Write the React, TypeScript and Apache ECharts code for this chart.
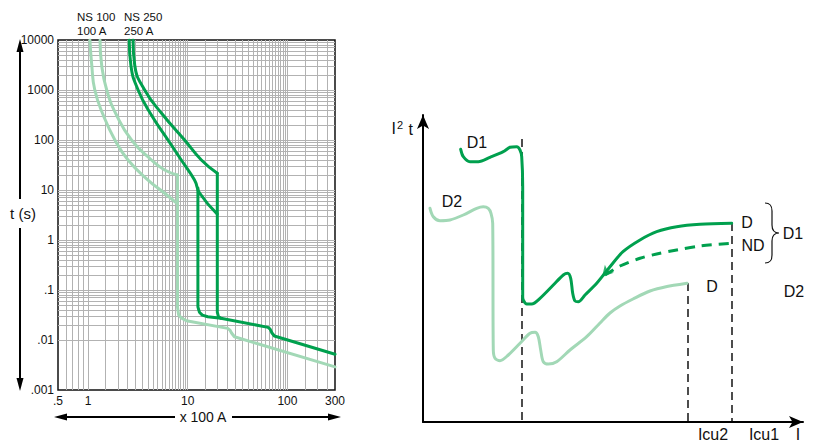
import React, { useEffect, useRef } from 'react';
import * as echarts from 'echarts';

const FONT = '"Liberation Sans", Arial, Helvetica, sans-serif';
const DARK = '#00a04e';
const LIGHT = '#a2d8b6';
const GRID_GRAY = '#b2b2b2';

// ---------- Left chart: tripping curves (x: multiples of 100 A, y: seconds) ----------
const xFineDecades = [0.1];
const xFineSteps = [1, 2, 3, 4, 5, 6, 7, 8, 9];
const xDecades = [1, 10, 100];
const xGridSteps = [1, 1.5, 2, 2.5, 3, 3.5, 4, 4.5, 5, 5.5, 6, 6.5, 7, 7.5, 8, 8.5, 9, 9.5];
const yDecades = [0.001, 0.01, 0.1, 1, 10, 100, 1000];
const yGridSteps = [1, 2, 3, 4, 5, 6, 7, 8, 9];

const ns100MinCurve = [[1.045, 10000], [1.09, 3162], [1.17, 1000], [1.42, 316], [1.86, 100], [2.52, 39.8], [4.0, 15.8], [5.87, 8.6], [7.9, 5.3]];
const ns100MaxCurve = [[1.32, 10000], [1.37, 3162], [1.54, 1000], [1.93, 316], [2.73, 100], [4.33, 39.8], [5.87, 25.1], [7.9, 20]];
const ns100Trip = [[7.9, 20], [7.9, 0.045], [8.1, 0.032], [8.6, 0.0277], [9.7, 0.0243], [25.2, 0.0171], [26.5, 0.0158], [27.5, 0.0138], [29.4, 0.0116], [300, 0.0029]];
const ns250MinCurve = [[2.59, 10000], [2.69, 3162], [3.18, 1000], [4.32, 316], [6.34, 100], [8.62, 39.8], [11.7, 15.8], [13.2, 8.6], [19.8, 3.3]];
const ns250MaxCurve = [[2.83, 10000], [2.94, 3162], [3.7, 1000], [5.65, 316], [9.3, 100], [13.7, 39.8], [19.8, 21.6]];
const ns250Trip = [[19.8, 21.6], [19.8, 0.036], [20.3, 0.0295], [21.5, 0.0272], [64, 0.0179], [67, 0.0165], [70, 0.0138], [74, 0.012], [300, 0.0052]];
const ns250Mag = [[12.65, 11], [12.65, 0.046], [13.1, 0.036], [14, 0.0315], [15.9, 0.0292], [21.5, 0.0272]];

// ---------- Right chart: schematic I²t (arbitrary units) ----------
const d1Curve = [[37.7, 272.7], [40.3, 265.3], [47, 260.3], [55.3, 260.3], [67, 264.7], [80.3, 270.3], [87, 274.7], [93.7, 275.3], [97, 272], [98.7, 265.3], [99.7, 235], [99.7, 125], [100.3, 122], [103.7, 118], [108.7, 118], [117, 123.7], [130.3, 137], [140.3, 147], [144.7, 148.7], [147.7, 143.7], [149.7, 128.7], [152, 121], [155.3, 120.3], [162, 127], [173.7, 138.7], [187, 155.3], [200, 170.3], [217, 182], [233.7, 190.3], [253.7, 195.3], [277, 197.7], [308.7, 198.7]];
const d1NonDiscr = [[182, 147], [197, 156], [217, 163.7], [233.7, 168], [253.7, 172], [277, 176], [308.7, 178.7]];
const d1Arrow = [[179, 145]];
const d2Curve = [[7, 213.7], [10.3, 205.3], [17, 201.3], [27, 202], [40.3, 207], [53.7, 213.7], [60.3, 215.3], [65.3, 213.7], [68, 208.7], [69.7, 198.7], [70.3, 72], [72, 63.7], [77, 61.3], [85.3, 67], [97, 78.7], [107, 88.7], [112, 89.7], [115.3, 85.3], [117.7, 72], [120.3, 60.3], [125.3, 58], [133.7, 60.3], [147, 72], [163.7, 85.3], [177, 99], [187, 109], [197, 116], [210, 123], [227, 131], [244, 135.5], [264, 138.7]];
const selectivityLine = [[99, 283], [99, 0]];
const icu2Line = [[265, 139], [265, 0]];
const icu1Line = [[309, 199], [309, 0]];

function buildGrid(decades: number[], steps: number[], min: number, max: number) {
  const out: number[] = [];
  decades.forEach((d) => steps.forEach((s) => {
    const v = +(d * s).toPrecision(4);
    if (v > min && v < max) out.push(v);
  }));
  return out;
}

let braceRegistered = false;
function registerBrace() {
  if (braceRegistered) return;
  try {
    const Brace = (echarts as any).graphic.extendPath(
      'M0 0 C5 0 7 2 7 8 L7 22 C7 27 9 30 14 30 C9 30 7 33 7 38 L7 52 C7 58 5 60 0 60',
      {}
    );
    (echarts as any).graphic.registerShape('brace', Brace);
    braceRegistered = true;
  } catch (e) {
    braceRegistered = false;
  }
}

const fmtTick = (v: number) => {
  if (v >= 1) return String(Math.round(v));
  return String(+v.toPrecision(2)).replace(/^0\./, '.');
};

export default function App() {
  const ref = useRef<HTMLDivElement>(null);

  useEffect(() => {
    if (!ref.current) return;
    registerBrace();
    const chart = echarts.init(ref.current, undefined, { renderer: 'svg' });

    const xGrid = [
      ...buildGrid(xFineDecades, xFineSteps, 0.5, 300),
      ...buildGrid(xDecades, xGridSteps, 0.5, 300),
    ];
    const yGrid = buildGrid(yDecades, yGridSteps, 0.001, 10000);

    const curve = (data: number[][], color: string, smooth: number | boolean, idx = 0) => ({
      type: 'line',
      xAxisIndex: idx,
      yAxisIndex: idx,
      data,
      smooth,
      symbol: 'none',
      silent: true,
      z: 5,
      lineStyle: { color, width: 3, cap: 'round', join: 'round' },
    });

    const dashed = (data: number[][]) => ({
      type: 'line',
      xAxisIndex: 1,
      yAxisIndex: 1,
      data,
      symbol: 'none',
      silent: true,
      z: 3,
      lineStyle: { color: '#000', width: 1.4, type: [8, 5] },
    });

    const txt = (text: string, x: number, y: number, size = 16, align = 'center') => ({
      type: 'text',
      x,
      y,
      style: {
        text,
        fill: '#111',
        font: `${size}px ${FONT}`,
        textAlign: align,
        textVerticalAlign: 'middle',
      },
    });

    const option: any = {
      animation: false,
      backgroundColor: '#fff',
      textStyle: { fontFamily: FONT },
      grid: [
        { left: 58, top: 40, width: 277, height: 350, show: true, borderColor: '#111', borderWidth: 1.5, backgroundColor: 'transparent' },
        { left: 423, top: 115, width: 380, height: 307 },
      ],
      xAxis: [
        {
          type: 'log', logBase: 10, gridIndex: 0, min: 0.5, max: 300,
          axisLine: { show: false }, axisTick: { show: false }, splitLine: { show: false },
          axisLabel: { formatter: fmtTick, margin: 5, fontSize: 12, color: '#111', fontFamily: FONT },
        },
        {
          type: 'value', gridIndex: 1, min: 0, max: 380,
          axisLine: { show: true, lineStyle: { color: '#000', width: 2 }, symbol: ['none', 'arrow'], symbolSize: [9, 14] },
          axisTick: { show: false }, axisLabel: { show: false }, splitLine: { show: false },
        },
      ],
      yAxis: [
        {
          type: 'log', logBase: 10, gridIndex: 0, min: 0.001, max: 10000,
          axisLine: { show: false }, axisTick: { show: false }, splitLine: { show: false },
          axisLabel: { formatter: fmtTick, margin: 4, fontSize: 12, color: '#111', fontFamily: FONT },
        },
        {
          type: 'value', gridIndex: 1, min: 0, max: 307,
          axisLine: { show: true, lineStyle: { color: '#000', width: 2 }, symbol: ['none', 'arrow'], symbolSize: [9, 14] },
          axisTick: { show: false }, axisLabel: { show: false }, splitLine: { show: false },
        },
      ],
      series: [
        {
          type: 'line', xAxisIndex: 0, yAxisIndex: 0, data: [], symbol: 'none', silent: true, z: 1,
          markLine: {
            silent: true, symbol: ['none', 'none'], animation: false,
            label: { show: false },
            emphasis: { disabled: true },
            lineStyle: { color: GRID_GRAY, width: 1, type: 'solid' },
            data: [...xGrid.map((v) => ({ xAxis: v })), ...yGrid.map((v) => ({ yAxis: v }))],
          },
        },
        curve(ns100MinCurve, LIGHT, 0.5),
        curve(ns100MaxCurve, LIGHT, 0.5),
        curve(ns100Trip, LIGHT, false),
        curve(ns250MinCurve, DARK, 0.5),
        curve(ns250MaxCurve, DARK, 0.5),
        curve(ns250Trip, DARK, false),
        curve(ns250Mag, DARK, false),
        dashed(selectivityLine),
        dashed(icu2Line),
        dashed(icu1Line),
        curve(d2Curve, LIGHT, 0.3, 1),
        curve(d1Curve, DARK, 0.3, 1),
        {
          type: 'line', xAxisIndex: 1, yAxisIndex: 1, data: d1NonDiscr, smooth: 0.3, symbol: 'none', silent: true, z: 5,
          lineStyle: { color: DARK, width: 3, type: [10, 7] },
        },
        {
          type: 'scatter', xAxisIndex: 1, yAxisIndex: 1, data: d1Arrow, symbol: 'arrow', symbolSize: [9, 11],
          symbolRotate: 138, silent: true, z: 6, itemStyle: { color: DARK },
        },
      ],
      graphic: [
        // left: vertical time arrow
        { type: 'line', shape: { x1: 20, y1: 50, x2: 20, y2: 199 }, style: { stroke: '#000', lineWidth: 2 } },
        { type: 'line', shape: { x1: 20, y1: 228, x2: 20, y2: 380 }, style: { stroke: '#000', lineWidth: 2 } },
        { type: 'polygon', shape: { points: [[20, 39], [16.5, 52], [23.5, 52]] }, style: { fill: '#000' } },
        { type: 'polygon', shape: { points: [[20, 391], [16.5, 378], [23.5, 378]] }, style: { fill: '#000' } },
        txt('t (s)', 23, 213, 15),
        // left: horizontal current arrow
        { type: 'line', shape: { x1: 64, y1: 417, x2: 175, y2: 417 }, style: { stroke: '#000', lineWidth: 2 } },
        { type: 'line', shape: { x1: 232, y1: 417, x2: 330, y2: 417 }, style: { stroke: '#000', lineWidth: 2 } },
        { type: 'polygon', shape: { points: [[54, 417], [67, 413.5], [67, 420.5]] }, style: { fill: '#000' } },
        { type: 'polygon', shape: { points: [[341, 417], [328, 413.5], [328, 420.5]] }, style: { fill: '#000' } },
        txt('x 100 A', 203, 417, 14),
        txt('NS 100', 77, 17, 11.5, 'left'),
        txt('100 A', 77, 31, 11.5, 'left'),
        txt('NS 250', 124, 17, 11.5, 'left'),
        txt('250 A', 124, 31, 11.5, 'left'),
        // right chart texts
        txt('I', 393.7, 128.5, 16),
        txt('2', 400, 124.5, 11),
        txt('t', 410.8, 129, 16),
        txt('D1', 477, 142),
        txt('D2', 452, 201),
        txt('D', 747, 222),
        txt('ND', 753, 245),
        txt('D1', 793, 233),
        txt('D', 712, 286),
        txt('D2', 794, 291),
        txt('Icu2', 713, 434),
        txt('Icu1', 764, 434),
        txt('I', 798, 434),
        ...(braceRegistered
          ? [{ type: 'brace', x: 765, y: 203, style: { stroke: '#111', fill: 'none', lineWidth: 1.2 } }]
          : []),
      ],
    };

    chart.setOption(option);
    return () => chart.dispose();
  }, []);

  return (
    <div
      ref={ref}
      style={{ position: 'absolute', left: 0, top: 0, width: 815, height: 441, background: '#fff' }}
    />
  );
}
